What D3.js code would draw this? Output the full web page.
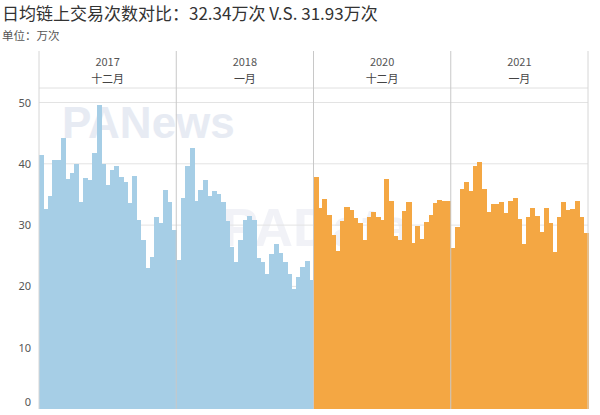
<!DOCTYPE html>
<html><head><meta charset="utf-8">
<script src="https://cdn.jsdelivr.net/npm/d3@7"></script>
<style>body{margin:0;background:#fff;}svg{display:block;font-family:"Noto Sans CJK SC","Noto Sans",sans-serif;}</style>
</head><body><svg id="c" width="600" height="415"></svg>
<script>
const panelYears = ["2017","2018","2020","2021"];
const panelMonths = ["十二月","一月","十二月","一月"];
const dec2017 = [41.4,32.6,34.8,40.7,40.6,44.2,37.6,38.5,40.0,33.7,37.7,37.3,41.8,49.6,40.0,36.6,39.0,39.7,37.9,37.0,33.6,38.0,30.8,27.6,23.0,24.8,31.4,30.4,35.7,33.8,29.2];
const jan2018 = [24.3,34.4,39.6,42.6,33.9,35.7,37.4,34.8,35.6,35.0,33.7,30.6,26.5,23.9,27.5,30.8,31.5,30.8,24.6,23.9,22.0,25.3,26.9,25.5,23.9,22.1,19.6,21.5,23.2,24.2,21.0];
const dec2020 = [37.9,32.8,34.3,31.6,28.4,25.7,30.7,33.0,32.4,31.2,30.3,27.6,31.4,32.2,31.4,30.8,37.6,33.9,28.2,27.6,32.3,33.8,27.1,29.9,27.8,30.5,31.6,33.6,34.1,33.9,33.9];
const jan2021 = [26.2,29.7,35.9,37.0,35.6,39.7,40.3,35.9,32.1,33.4,33.4,33.7,31.9,33.9,34.5,31.0,26.9,31.4,32.8,31.5,28.9,32.8,30.4,25.6,31.4,33.7,32.5,32.6,33.9,31.4,28.7];
const yTicks = [0,10,20,30,40,50];
const titleText = "日均链上交易次数对比：32.34万次 V.S. 31.93万次";
const unitText = "单位：万次";

const series = [dec2017, jan2018, dec2020, jan2021];
const colors = ["#a6cee6","#a6cee6","#f4a743","#f4a743"];

const svg = d3.select("#c");
const L = 39, R = 588, TOP = 51, HB = 88, BASE = 409;

svg.append("text").attr("x",2).attr("y",20).attr("font-size",17).attr("fill","#333").text(titleText);
svg.append("text").attr("x",2).attr("y",40).attr("font-size",11.5).attr("fill","#555").text(unitText);

// watermarks
svg.append("text").attr("x",62).attr("y",138).attr("font-size",44).attr("font-weight","bold")
  .attr("font-family","Liberation Sans, Arial, sans-serif").attr("fill","#dde3ef").attr("opacity",0.7).text("PANews");
svg.append("text").attr("x",222).attr("y",246).attr("font-size",54).attr("font-weight","bold")
  .attr("font-family","Liberation Sans, Arial, sans-serif").attr("fill","#e6e9f2").attr("opacity",0.55).text("PAData");

const px = d3.scaleBand().domain(d3.range(4)).range([L,R]).padding(0);
const y = d3.scaleLinear().domain([0,50]).range([BASE,102.5]);

const g = svg.append("g");
g.selectAll("line.grid").data(yTicks.filter(d=>d>0)).join("line")
  .attr("x1",L).attr("x2",R).attr("y1",d=>y(d)).attr("y2",d=>y(d))
  .attr("stroke","#e3e3e3").attr("stroke-width",1);
svg.append("line").attr("x1",L).attr("x2",R).attr("y1",HB).attr("y2",HB).attr("stroke","#e0e0e0");

const yAxis = d3.axisLeft(y).tickValues(yTicks).tickSize(0).tickPadding(0);
const ya = svg.append("g").attr("transform",`translate(${31},0)`).call(yAxis);
ya.select(".domain").remove();
ya.selectAll("text").attr("font-size",11).attr("fill","#555").attr("font-family","Noto Sans, sans-serif")
  .attr("dy",d=>d===0?"-0.35em":"0.32em");

series.forEach((vals,i)=>{
  const x0 = px(i);
  const xb = d3.scaleBand().domain(d3.range(vals.length)).range([x0, x0+px.bandwidth()]).padding(0);
  svg.append("g").selectAll("rect").data(vals).join("rect")
    .attr("x",(d,j)=>xb(j)).attr("width",xb.bandwidth()+0.6)
    .attr("y",d=>y(d)).attr("height",d=>BASE-y(d))
    .attr("fill",colors[i]).attr("shape-rendering","crispEdges");
  svg.append("text").attr("x",x0+px.bandwidth()/2).attr("y",66).attr("text-anchor","middle")
    .attr("font-size",11).attr("fill","#555").text(panelYears[i]);
  svg.append("text").attr("x",x0+px.bandwidth()/2).attr("y",83).attr("text-anchor","middle")
    .attr("font-size",11).attr("fill","#444").text(panelMonths[i]);
});

svg.append("g").selectAll("line").data([L, px(1), px(2), px(3), R]).join("line")
  .attr("x1",d=>d).attr("x2",d=>d).attr("y1",TOP).attr("y2",BASE)
  .attr("stroke",(d,i)=>(i===0||i===4)?"#d6d6d6":"#c8c8c8").attr("stroke-width",1);
</script></body></html>
